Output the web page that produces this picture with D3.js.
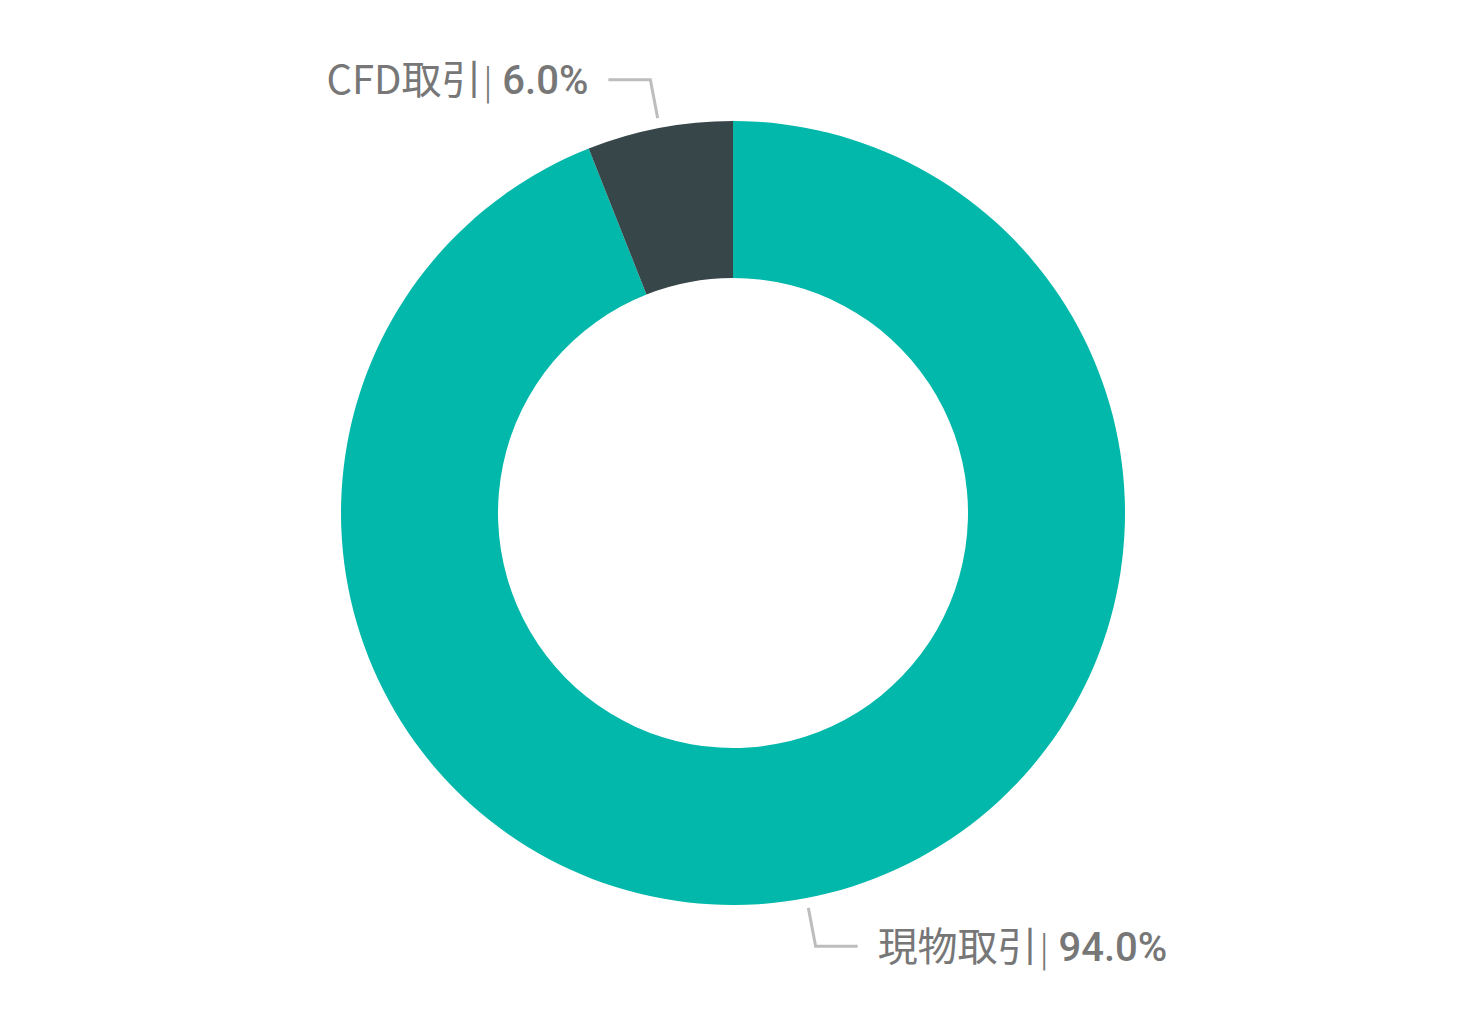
<!DOCTYPE html>
<html>
<head>
<meta charset="utf-8">
<script src="https://cdn.jsdelivr.net/npm/d3@7"></script>
<style>
  html, body { margin: 0; padding: 0; background: #fff; }
  svg { display: block; }
</style>
</head>
<body>
<div id="chart"></div>
<script>
// Chart data
const categories = ['現物取引', 'CFD取引'];
const values = [94.0, 6.0];
const colors = ['#01B8AA', '#374649'];

document.addEventListener('DOMContentLoaded', function() {
    drawDonut();
});

function drawDonut() {
    const width = 1478, height = 1026;
    const cx = 733, cy = 513;
    const outerR = 392, innerR = 235;

    const svg = d3.select('#chart')
        .append('svg')
        .attr('width', width)
        .attr('height', height);

    const g = svg.append('g')
        .attr('transform', `translate(${cx},${cy})`);

    const data = categories.map((c, i) => ({ name: c, value: values[i], color: colors[i] }));

    const pie = d3.pie()
        .value(d => d.value)
        .sort(null);

    const arc = d3.arc()
        .innerRadius(innerR)
        .outerRadius(outerR);

    const arcs = pie(data);

    g.selectAll('path.slice')
        .data(arcs)
        .enter()
        .append('path')
        .attr('class', 'slice')
        .attr('d', arc)
        .attr('fill', d => d.data.color);

    // Leader lines and labels
    const r1 = 402, r2 = 441, lineLen = 42, gap = 20;

    arcs.forEach(d => {
        const mid = (d.startAngle + d.endAngle) / 2;
        const p1 = [Math.sin(mid) * r1, -Math.cos(mid) * r1];
        const p2 = [Math.sin(mid) * r2, -Math.cos(mid) * r2];
        const right = Math.sin(mid) > 0 ? 1 : -1;
        const p3 = [p2[0] + right * lineLen, p2[1]];

        g.append('polyline')
            .attr('points', [p1, p2, p3].map(p => p.join(',')).join(' '))
            .attr('fill', 'none')
            .attr('stroke', '#bdbdbd')
            .attr('stroke-width', 3);

        const text = g.append('text')
            .attr('x', p3[0] + right * gap)
            .attr('y', p3[1])
            .attr('dy', '0.36em')
            .attr('text-anchor', right > 0 ? 'start' : 'end')
            .attr('fill', '#777777')
            .style('font-size', '40px');

        text.append('tspan')
            .style('font-family', '"Noto Sans CJK JP", "Noto Sans", sans-serif')
            .style('font-weight', 400)
            .text(d.data.name);

        text.append('tspan')
            .style('font-family', '"DejaVu Sans", sans-serif')
            .style('font-weight', 200)
            .style('font-size', '38px')
            .attr('dx', 0)
            .text('|');

        text.append('tspan')
            .style('font-family', 'Roboto, "Noto Sans", sans-serif')
            .style('font-weight', 500)
            .attr('dx', 8)
            .text(d.data.value.toFixed(1) + '%');
    });
}
</script>
</body>
</html>
